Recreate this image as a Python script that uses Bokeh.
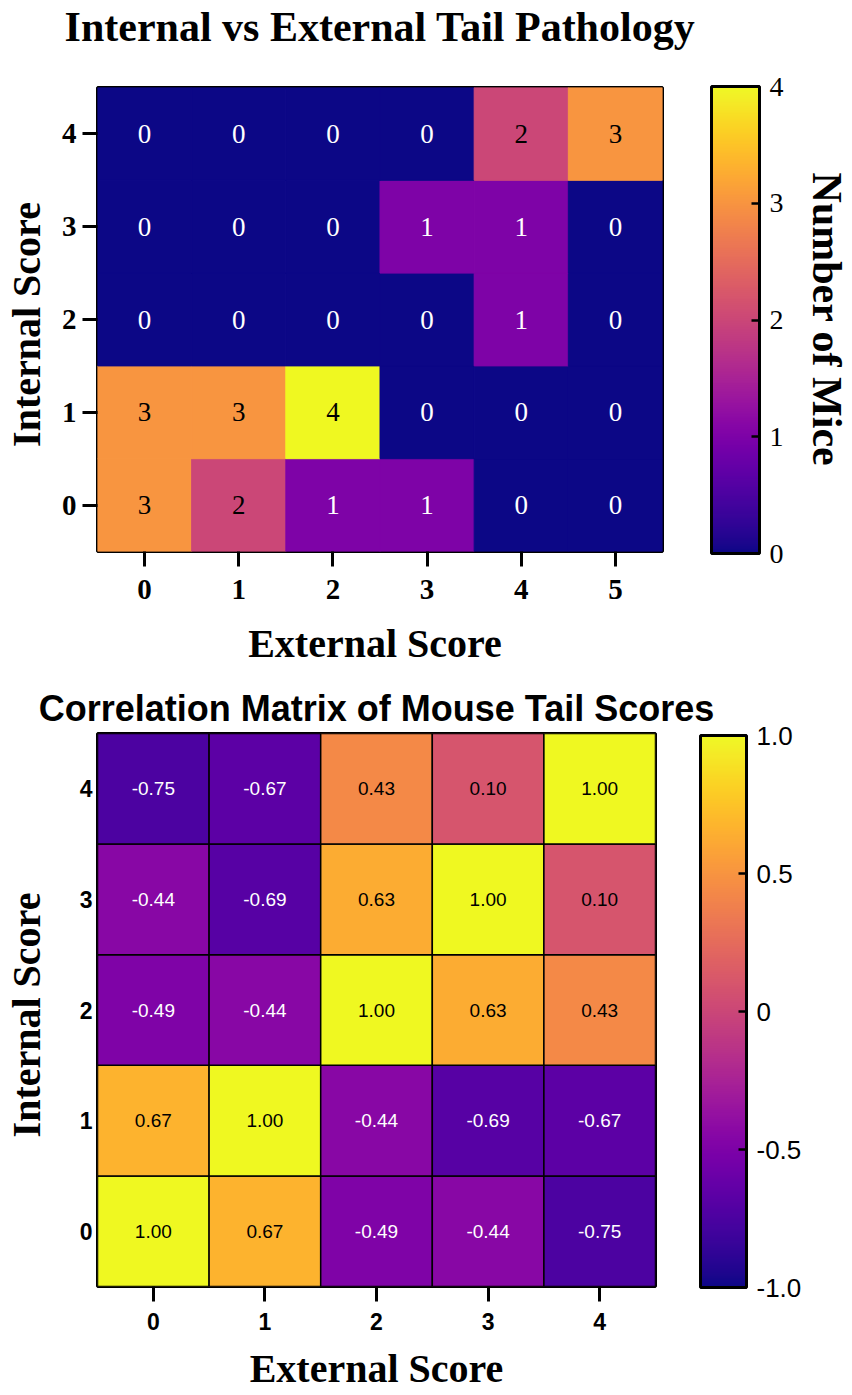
from bokeh.plotting import figure
from bokeh.models import (ColumnDataSource, LinearColorMapper, ColorBar, FixedTicker, LinearAxis)
from bokeh.palettes import Plasma256
from bokeh.transform import transform
from bokeh.embed import file_html
from bokeh.resources import INLINE
from bokeh.core.properties import value

# ---------------- data ----------------
external_scores = [0, 1, 2, 3, 4, 5]
internal_scores = [0, 1, 2, 3, 4]
mice_internal_0 = [3, 2, 1, 1, 0, 0]
mice_internal_1 = [3, 3, 4, 0, 0, 0]
mice_internal_2 = [0, 0, 0, 0, 1, 0]
mice_internal_3 = [0, 0, 0, 1, 1, 0]
mice_internal_4 = [0, 0, 0, 0, 2, 3]
count_ticks = [0, 1, 2, 3, 4]

corr_external = [0, 1, 2, 3, 4]
corr_internal = [0, 1, 2, 3, 4]
corr_internal_0 = [1.00, 0.67, -0.49, -0.44, -0.75]
corr_internal_1 = [0.67, 1.00, -0.44, -0.69, -0.67]
corr_internal_2 = [-0.49, -0.44, 1.00, 0.63, 0.43]
corr_internal_3 = [-0.44, -0.69, 0.63, 1.00, 0.10]
corr_internal_4 = [-0.75, -0.67, 0.43, 0.10, 1.00]
corr_ticks = [-1.0, -0.5, 0.0, 0.5, 1.0]
corr_tick_labels = ["-1.0", "-0.5", "0", "0.5", "1.0"]

SERIF = "Liberation Serif"
SANS = "Liberation Sans"
W = 852
H1 = 680
H2 = 715


def style_axes(p):
    p.grid.visible = False
    p.outline_line_color = "black"
    p.outline_line_width = 3
    for ax in (p.xaxis[0], p.yaxis[0]):
        ax.axis_line_color = None
        ax.minor_tick_line_color = None
        ax.major_tick_in = 0
        ax.major_tick_line_color = "black"
        ax.major_tick_line_width = 3
        ax.axis_label_text_font = SERIF
        ax.axis_label_text_font_style = "bold"
        ax.axis_label_text_font_size = "40px"
        ax.axis_label_text_color = "black"
    p.xaxis.axis_label_text_baseline = "top"


def text_axis(label, standoff, size, font, baseline="bottom"):
    return LinearAxis(ticker=FixedTicker(ticks=[]), axis_label=label,
                      axis_line_color=None, major_tick_line_color=None,
                      major_tick_out=0, major_tick_in=0, major_label_standoff=0,
                      minor_tick_line_color=None, axis_label_standoff=standoff,
                      axis_label_text_baseline=baseline,
                      axis_label_text_font=font, axis_label_text_font_style="bold",
                      axis_label_text_font_size=f"{size}px", axis_label_text_color="black")


# ---------------- figure 1 ----------------
rows1 = [mice_internal_0, mice_internal_1, mice_internal_2, mice_internal_3, mice_internal_4]
xs, ys, vs, ts, cs = [], [], [], [], []
for yi, row in zip(internal_scores, rows1):
    for xi, v in zip(external_scores, row):
        xs.append(xi); ys.append(yi); vs.append(v); ts.append(str(v))
        cs.append("white" if v < 2 else "black")
src1 = ColumnDataSource(dict(x=xs, y=ys, v=vs, t=ts, c=cs))
mapper1 = LinearColorMapper(palette=Plasma256, low=min(count_ticks), high=max(count_ticks))

p1 = figure(width=W, height=H1, x_range=(-0.5, 5.5), y_range=(-0.5, 4.5),
            output_backend="svg", toolbar_location=None, title_location=None,
            x_axis_label="External  Score", y_axis_label="Internal  Score",
            min_border_left=96, min_border_right=W - 664, min_border_top=85,
            min_border_bottom=H1 - 551)
p1.rect(x="x", y="y", width=1, height=1, source=src1,
        fill_color=transform("v", mapper1), line_color=transform("v", mapper1),
        line_width=1)
p1.text(x="x", y="y", text="t", source=src1, text_color="c", text_align="center",
        text_baseline="middle", text_font=value(SERIF), text_font_size="27px")
style_axes(p1)
p1.xaxis.ticker = FixedTicker(ticks=external_scores)
p1.yaxis.ticker = FixedTicker(ticks=internal_scores)
p1.xaxis.major_tick_out = 15
p1.yaxis.major_tick_out = 15
p1.xaxis.major_label_standoff = 13
p1.yaxis.major_label_standoff = 6
p1.xaxis.axis_label_standoff = 19
p1.yaxis.axis_label_standoff = 10
for ax in (p1.xaxis[0], p1.yaxis[0]):
    ax.major_label_text_font = SERIF
    ax.major_label_text_font_style = "bold"
    ax.major_label_text_font_size = "29px"
    ax.major_label_text_color = "black"

# chart title (drawn as the label of a tick-less top axis)
p1.add_layout(text_axis("Internal vs External Tail Pathology", 38, 42, SERIF), "above")

cb1 = ColorBar(color_mapper=mapper1, ticker=FixedTicker(ticks=count_ticks),
               location=(614, -2), width=48, height=467, padding=0, margin=0,
               bar_line_color="black", bar_line_width=3,
               major_tick_in=8, major_tick_out=0, major_tick_line_color="black",
               major_tick_line_width=2.5, label_standoff=10,
               major_label_text_font=SERIF, major_label_text_font_size="28px",
               major_label_text_color="black",
               border_line_color=None, background_fill_color=None)
p1.add_layout(cb1, "center")
p1.add_layout(text_axis("Number of Mice", 141, 42, SERIF), "right")

# ---------------- figure 2 ----------------
rows2 = [corr_internal_0, corr_internal_1, corr_internal_2, corr_internal_3, corr_internal_4]
xs, ys, vs, ts, cs = [], [], [], [], []
for yi, row in zip(corr_internal, rows2):
    for xi, v in zip(corr_external, row):
        xs.append(xi); ys.append(yi); vs.append(v); ts.append(f"{v:.2f}")
        cs.append("white" if v < 0 else "black")
src2 = ColumnDataSource(dict(x=xs, y=ys, v=vs, t=ts, c=cs))
mapper2 = LinearColorMapper(palette=Plasma256, low=min(corr_ticks), high=max(corr_ticks))

p2 = figure(width=W, height=H2, x_range=(-0.5, 4.5), y_range=(-0.5, 4.5),
            output_backend="svg", toolbar_location=None,
            x_axis_label="External Score", y_axis_label="Internal  Score",
            min_border_left=97, min_border_right=W - 655, min_border_top=53,
            min_border_bottom=H2 - 53 - 553)
p2.rect(x="x", y="y", width=1, height=1, source=src2,
        fill_color=transform("v", mapper2), line_color="black", line_width=1.5)
p2.text(x="x", y="y", text="t", source=src2, text_color="c", text_align="center",
        text_baseline="middle", text_font=value(SANS), text_font_size="19px")
style_axes(p2)
p2.xaxis.ticker = FixedTicker(ticks=corr_external)
p2.yaxis.ticker = FixedTicker(ticks=corr_internal)
p2.xaxis.major_tick_out = 15
p2.yaxis.major_tick_out = 0
p2.yaxis.major_tick_line_color = None
p2.xaxis.major_label_standoff = 11
p2.yaxis.major_label_standoff = 5
p2.xaxis.axis_label_standoff = 13
p2.yaxis.axis_label_standoff = 28
for ax in (p2.xaxis[0], p2.yaxis[0]):
    ax.major_label_text_font = SANS
    ax.major_label_text_font_style = "bold"
    ax.major_label_text_font_size = "23px"
    ax.major_label_text_color = "black"

p2.title.text = "Correlation Matrix of Mouse Tail Scores"
p2.title.align = "center"
p2.title.text_font = SANS
p2.title.text_font_style = "bold"
p2.title.text_font_size = "36px"
p2.title.text_color = "black"
p2.title.standoff = 10

cb2 = ColorBar(color_mapper=mapper2, ticker=FixedTicker(ticks=corr_ticks),
               major_label_overrides={t: l for t, l in zip(corr_ticks, corr_tick_labels)},
               location=(603, -1), width=46, height=552, padding=0, margin=0,
               bar_line_color="black", bar_line_width=3,
               major_tick_in=8, major_tick_out=0, major_tick_line_color="black",
               major_tick_line_width=2.5, label_standoff=10,
               major_label_text_font=SANS, major_label_text_font_size="26px",
               major_label_text_color="black",
               border_line_color=None, background_fill_color=None)
p2.add_layout(cb2, "center")

# two independent roots, so the two plot frames are not forced into alignment
open("out.html", "w").write(file_html([p1, p2], INLINE))
